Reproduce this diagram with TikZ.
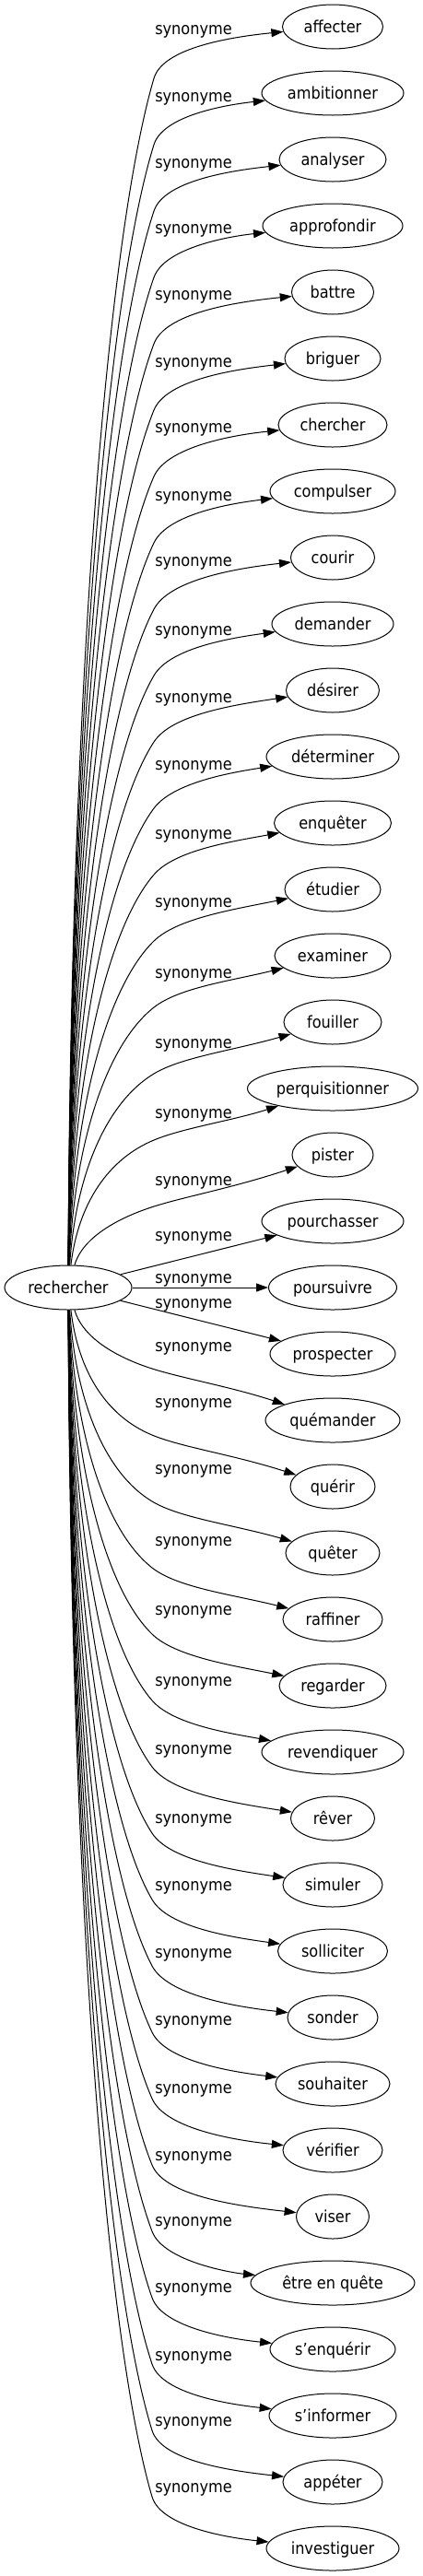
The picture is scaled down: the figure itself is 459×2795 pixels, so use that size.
\documentclass[tikz,border=0pt]{standalone}
\usepackage{fontspec}
\setmainfont{DejaVu Sans Condensed}
\usetikzlibrary{arrows.meta,shapes.geometric}
\newcommand\synedge[3]{%
  \pgfmathsetmacro\eSg{#2<1397 ? -1 : 1}%
  \pgfmathsetmacro\eN{abs(#2-1397)/72}%
  \pgfmathsetmacro\eBy{#2-(\eSg)*56}%
  \pgfmathsetmacro\eBx{\eSg<0 ? 167 : 165}%
  \pgfmathsetmacro\eHh{abs(\eBy-1397)}%
  \pgfmathsetmacro\eAx{75+30/\eN}%
  \pgfmathsetmacro\eAy{1397+(\eSg)*(24+0.5*(\eHh-24))}%
  \pgfmathsetmacro\eCx{\eBx-min(49,0.4*\eHh)}%
  \pgfmathsetmacro\eCy{\eBy-(\eSg)*0.127*\eHh}%
  \pgfmathsetmacro\eDl{veclen(\eBx-\eCx,\eBy-\eCy)}%
  \pgfmathsetmacro\eDx{\eBx+35*(\eBx-\eCx)/\eDl}%
  \pgfmathsetmacro\eDy{\eBy+35*(\eBy-\eCy)/\eDl}%
  \draw[edge] (rech) .. controls (\eAx,\eAy) and (\eCx,\eCy) .. (\eBx,\eBy) .. controls (\eDx,\eDy) and (252,#3) .. (#1);%
}
\begin{document}
\begin{tikzpicture}[x=1bp,y=-1bp,
  every node/.style={font=\fontsize{18}{21}\selectfont},
  word/.style={draw, ellipse, line width=1bp, inner sep=0pt, minimum height=48bp, text height=13bp, text depth=1bp},
  lbl/.style={anchor=base, inner sep=0pt},
  edge/.style={line width=1bp, -{Triangle[length=13bp,width=9bp]}}]
\useasboundingbox (0,0) rectangle (459,2795);
\node[word, minimum width=138bp] (rech) at (74,1397) {rechercher};
\foreach \i/\txt/\rx/\ly/\wy in {
0/affecter/54.5/32/40,
1/ambitionner/77/105/113,
2/analyser/58/177/185,
3/approfondir/76/248/256,
4/battre/44.5/320/328,
5/briguer/52/393/401,
6/chercher/59/464/472,
7/compulser/68/538/546,
8/courir/45.5/609/617,
9/demander/66/684/692,
10/désirer/50.5/757/765,
11/déterminer/72/830/838,
12/enquêter/63.5/905/913,
13/étudier/52/979/987,
14/examiner/63/1056/1064,
15/fouiller/53/1132/1140,
16/perquisitionner/92.5/1208/1216,
17/pister/44/1281/1289,
21/quémander/73/1461/1505,
22/quérir/46/1522/1578,
23/quêter/51/1594/1654,
24/raffiner/54/1672/1730,
25/regarder/58/1747/1807,
26/revendiquer/77/1824/1881,
27/rêver/45.5/1898/1956,
28/simuler/54/1973/2029,
29/solliciter/59.5/2046/2102,
30/sonder/49/2119/2177,
31/souhaiter/62/2192/2248,
32/vérifier/54/2266/2322,
33/viser/39.5/2339/2393,
34/être en quête/89/2410/2466,
35/s'enquérir/68/2482/2538,
36/s'informer/69/2556/2609,
37/appéter/54/2627/2681,
38/investiguer/72/2699/2754}{
  \pgfmathsetmacro\ty{29+72*\i}
  \node[word, minimum width=2*\rx bp] (n\i) at (361,\ty) {\txt};
  \node[lbl] (l\i) at (210,\ly+5) {synonyme};
  \synedge{n\i}{\ty}{\wy}
}
\foreach \i/\txt/\rx/\ly in {18/pourchasser/77/1341, 19/poursuivre/69.5/1387, 20/prospecter/68/1414}{
  \pgfmathsetmacro\ty{29+72*\i}
  \node[word, minimum width=2*\rx bp] (n\i) at (361,\ty) {\txt};
  \node[lbl] (l\i) at (210,\ly+5) {synonyme};
  \draw[edge] (rech) -- (n\i);
}
\end{tikzpicture}
\end{document}
